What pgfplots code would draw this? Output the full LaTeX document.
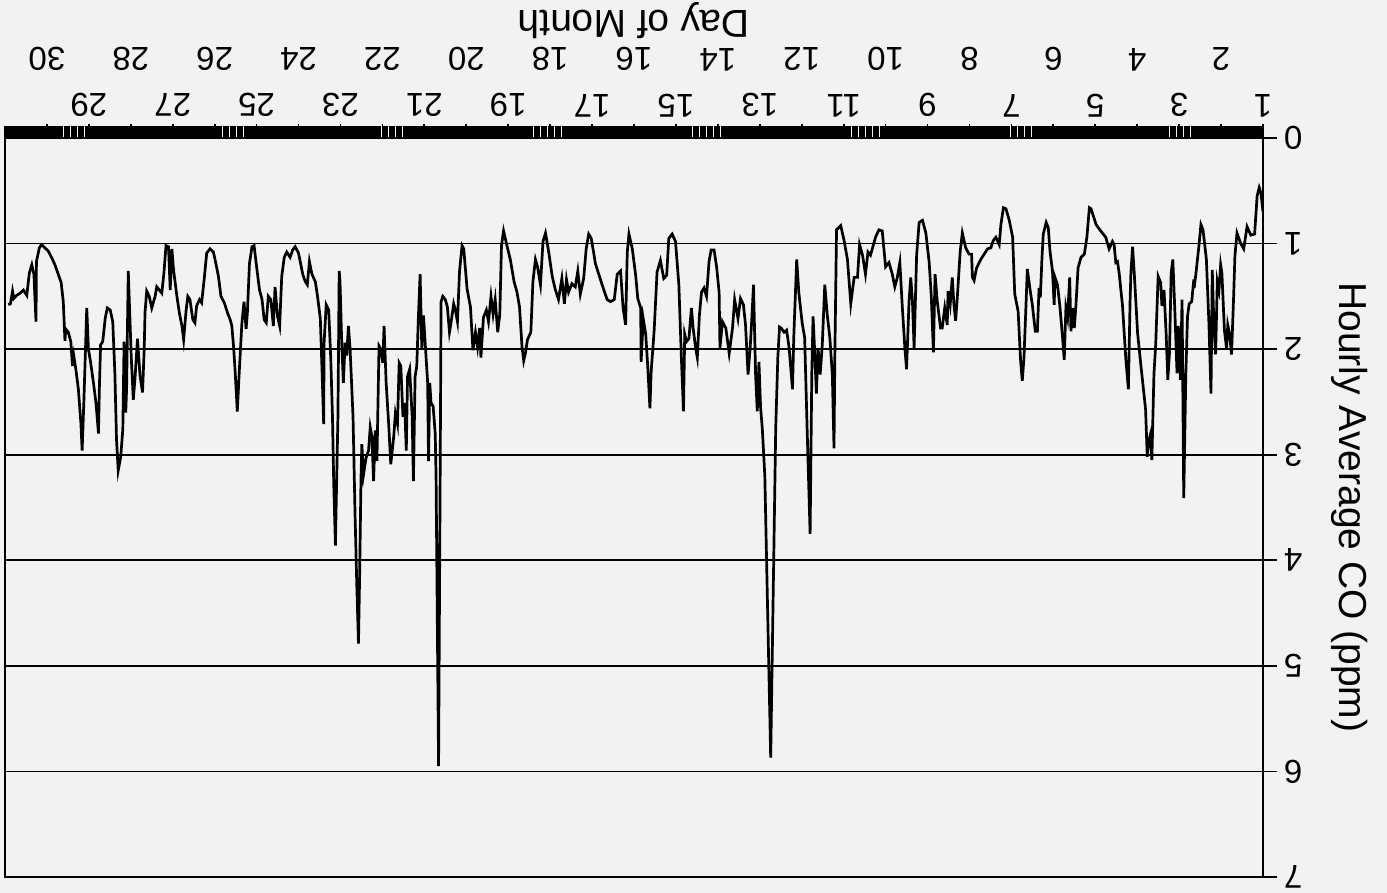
\documentclass[border=0pt]{standalone}
\usepackage{pgfplots}
\usepackage{pgfplotstable}
\pgfplotsset{compat=1.18}
\usetikzlibrary{backgrounds}
\usepackage{fontspec}
\setmainfont{Liberation Sans}

\pgfplotstableread{
day ppm
1.00 0.70
1.05 0.52
1.09 0.47
1.14 0.55
1.20 0.91
1.29 0.92
1.38 0.84
1.46 1.05
1.53 1.00
1.62 0.90
1.67 1.12
1.70 1.50
1.75 2.05
1.80 1.85
1.84 1.77
1.87 1.99
1.92 1.82
1.98 1.28
2.01 1.20
2.05 1.44
2.09 1.36
2.13 2.05
2.17 1.78
2.21 1.25
2.24 2.42
2.29 1.75
2.35 1.15
2.43 0.87
2.48 0.82
2.53 1.03
2.59 1.25
2.64 1.42
2.65 1.34
2.70 1.55
2.76 1.57
2.80 1.69
2.84 2.23
2.89 3.41
2.93 1.53
2.97 2.29
3.02 1.78
3.05 2.23
3.10 1.66
3.15 1.15
3.19 1.28
3.23 2.04
3.27 2.29
3.31 1.85
3.36 1.44
3.41 1.59
3.44 1.37
3.50 1.31
3.56 1.97
3.60 2.23
3.65 3.05
3.68 2.80
3.72 2.86
3.76 3.02
3.80 2.57
3.91 2.16
3.99 1.85
4.07 1.28
4.11 1.03
4.15 1.28
4.17 1.55
4.21 2.38
4.27 2.10
4.35 1.59
4.43 1.28
4.47 1.17
4.51 1.18
4.55 1.01
4.59 0.98
4.67 1.05
4.75 0.94
4.87 0.88
4.98 0.82
5.10 0.67
5.14 0.66
5.20 0.94
5.26 1.10
5.34 1.13
5.41 1.23
5.46 1.58
5.50 1.80
5.54 1.61
5.58 1.83
5.61 1.32
5.66 1.70
5.70 1.61
5.74 2.10
5.78 1.89
5.84 1.61
5.90 1.39
5.96 1.32
5.98 1.58
6.02 1.26
6.08 1.07
6.12 0.85
6.17 0.80
6.24 0.91
6.27 1.13
6.31 1.51
6.34 1.42
6.38 1.83
6.43 1.83
6.50 1.58
6.55 1.45
6.62 1.24
6.66 1.67
6.70 2.08
6.74 2.30
6.78 2.11
6.84 1.64
6.92 1.48
6.97 0.94
7.05 0.78
7.13 0.67
7.19 0.66
7.25 0.82
7.29 1.01
7.37 0.94
7.43 0.97
7.49 1.04
7.57 1.05
7.65 1.10
7.73 1.15
7.83 1.23
7.89 1.35
7.93 1.32
7.95 1.10
8.01 1.10
8.09 1.04
8.17 0.90
8.22 1.07
8.29 1.51
8.33 1.73
8.37 1.58
8.41 1.32
8.46 1.58
8.51 1.45
8.53 1.77
8.59 1.61
8.65 1.80
8.69 1.80
8.77 1.54
8.82 1.29
8.86 2.03
8.91 1.50
8.96 1.18
9.04 0.90
9.12 0.78
9.20 0.80
9.26 1.11
9.32 1.99
9.36 1.54
9.40 1.32
9.44 1.54
9.50 2.19
9.54 1.99
9.60 1.61
9.66 1.18
9.72 1.32
9.78 1.41
9.84 1.29
9.92 1.18
10.00 1.22
10.08 0.88
10.16 0.87
10.24 0.94
10.36 1.11
10.42 1.08
10.48 1.29
10.55 1.11
10.62 1.01
10.67 1.32
10.75 1.32
10.83 1.57
10.91 1.15
10.99 0.97
11.07 0.83
11.17 0.87
11.21 2.06
11.23 2.94
11.27 2.24
11.33 1.89
11.39 1.68
11.45 1.39
11.51 1.96
11.56 2.24
11.61 1.99
11.65 2.42
11.69 2.03
11.73 1.69
11.76 2.24
11.80 3.75
11.87 2.77
11.93 1.89
11.99 1.75
12.07 1.46
12.12 1.15
12.19 1.89
12.22 2.38
12.30 1.99
12.36 1.82
12.42 1.84
12.49 1.80
12.53 1.79
12.57 2.08
12.62 2.75
12.74 5.87
12.88 3.20
12.94 2.75
12.98 2.56
13.02 2.12
13.06 2.59
13.10 2.24
13.15 1.39
13.19 1.71
13.23 1.99
13.28 2.24
13.34 1.77
13.39 1.58
13.46 1.52
13.52 1.71
13.60 1.53
13.65 1.80
13.73 2.04
13.81 1.80
13.89 1.74
13.95 1.99
13.97 1.46
14.03 1.22
14.09 1.06
14.16 1.06
14.21 1.17
14.27 1.50
14.33 1.42
14.39 1.46
14.44 1.68
14.49 2.08
14.53 1.99
14.59 1.80
14.63 1.61
14.69 1.90
14.75 1.93
14.79 1.86
14.82 2.59
14.87 2.08
14.93 1.39
15.01 0.98
15.09 0.91
15.17 0.95
15.22 1.30
15.29 1.33
15.37 1.16
15.45 1.27
15.52 1.83
15.59 2.21
15.62 2.56
15.67 2.18
15.72 1.86
15.78 1.71
15.83 2.12
15.84 1.61
15.91 1.52
15.96 1.30
16.04 1.05
16.12 0.91
16.16 1.08
16.20 1.77
16.26 1.61
16.32 1.26
16.40 1.29
16.47 1.53
16.56 1.55
16.64 1.53
16.71 1.45
16.76 1.39
16.84 1.29
16.92 1.19
16.96 1.09
17.02 0.95
17.08 0.91
17.14 1.05
17.20 1.33
17.28 1.48
17.34 1.26
17.40 1.41
17.48 1.38
17.56 1.46
17.61 1.34
17.66 1.57
17.72 1.33
17.80 1.53
17.88 1.43
17.95 1.31
18.03 1.09
18.11 0.90
18.17 0.98
18.23 1.39
18.30 1.22
18.35 1.15
18.41 1.36
18.46 1.84
18.54 1.91
18.59 2.04
18.63 2.11
18.67 1.98
18.73 1.60
18.79 1.46
18.86 1.36
18.95 1.15
19.03 1.02
19.11 0.88
19.16 1.02
19.20 1.67
19.25 1.84
19.31 1.53
19.36 1.67
19.41 1.50
19.47 1.74
19.52 1.63
19.59 1.70
19.65 2.08
19.68 1.80
19.73 1.98
19.78 1.84
19.84 2.01
19.90 1.60
19.98 1.43
20.06 1.05
20.10 1.02
20.16 1.26
20.21 1.74
20.26 1.63
20.30 1.57
20.37 1.77
20.40 1.84
20.45 1.60
20.50 1.53
20.56 1.50
20.60 1.55
20.66 5.95
20.72 3.20
20.74 2.80
20.79 2.54
20.84 2.51
20.87 2.32
20.90 3.06
20.92 2.32
20.98 1.94
21.02 1.68
21.06 2.00
21.10 1.29
21.14 1.68
21.18 2.16
21.22 2.26
21.26 3.25
21.29 2.64
21.35 2.19
21.40 2.26
21.43 2.96
21.47 2.51
21.51 2.64
21.56 2.16
21.60 2.13
21.64 2.71
21.69 2.61
21.73 2.83
21.80 3.09
21.85 2.71
21.91 2.32
21.96 1.78
21.99 2.13
22.04 2.00
22.08 1.97
22.13 3.06
22.17 2.77
22.21 3.25
22.25 2.83
22.29 2.74
22.33 2.96
22.39 3.03
22.45 3.19
22.49 2.90
22.51 3.22
22.54 4.08
22.57 4.79
22.61 4.24
22.65 3.60
22.70 2.64
22.77 2.00
22.81 1.78
22.85 2.06
22.89 1.94
22.93 2.32
22.97 1.94
23.01 1.36
23.03 1.26
23.06 2.64
23.10 3.44
23.12 3.86
23.16 3.28
23.19 2.64
23.23 2.10
23.28 1.63
23.34 1.58
23.39 1.94
23.40 2.71
23.44 2.19
23.48 1.71
23.55 1.49
23.60 1.36
23.68 1.29
23.74 1.17
23.79 1.39
23.84 1.36
23.90 1.29
24.00 1.09
24.08 1.03
24.14 1.06
24.20 1.13
24.28 1.08
24.34 1.13
24.40 1.31
24.45 1.78
24.50 1.69
24.56 1.41
24.60 1.78
24.66 1.53
24.72 1.50
24.77 1.75
24.82 1.72
24.87 1.53
24.93 1.44
24.99 1.25
25.06 1.02
25.11 1.03
25.17 1.19
25.22 1.66
25.25 1.81
25.30 1.55
25.35 1.75
25.41 2.19
25.46 2.59
25.51 2.22
25.55 1.97
25.59 1.78
25.63 1.72
25.69 1.66
25.77 1.56
25.85 1.50
25.91 1.31
25.97 1.19
26.03 1.08
26.11 1.05
26.19 1.09
26.25 1.34
26.31 1.56
26.36 1.53
26.43 1.59
26.47 1.75
26.52 1.72
26.59 1.53
26.64 1.50
26.68 1.63
26.74 1.91
26.78 1.78
26.84 1.66
26.90 1.50
26.98 1.25
27.02 1.05
27.06 1.44
27.10 1.03
27.16 1.02
27.21 1.28
27.26 1.47
27.32 1.44
27.38 1.41
27.42 1.50
27.50 1.61
27.56 1.50
27.62 1.45
27.66 1.65
27.68 2.00
27.72 2.41
27.78 2.25
27.84 1.90
27.90 2.28
27.94 2.48
27.99 2.06
28.06 1.26
28.10 2.38
28.12 2.60
28.16 1.93
28.19 2.76
28.24 3.02
28.30 3.15
28.34 2.86
28.38 2.22
28.43 1.74
28.49 1.63
28.56 1.61
28.61 1.71
28.67 1.93
28.72 1.96
28.75 2.38
28.77 2.80
28.83 2.51
28.89 2.32
28.96 2.12
29.01 2.00
29.05 1.61
29.07 1.87
29.12 2.51
29.16 2.96
29.19 2.70
29.25 2.38
29.31 2.19
29.36 2.06
29.39 2.16
29.43 1.93
29.49 1.84
29.55 1.81
29.57 1.92
29.61 1.55
29.66 1.37
29.73 1.29
29.81 1.20
29.89 1.13
29.97 1.07
30.05 1.04
30.13 1.01
30.18 1.04
30.25 1.17
30.26 1.74
30.31 1.29
30.36 1.20
30.42 1.28
30.48 1.49
30.56 1.44
30.64 1.47
30.72 1.49
30.79 1.52
30.82 1.45
30.87 1.57
30.92 1.58
}\codata

\begin{document}
\begin{tikzpicture}[show background rectangle, inner frame sep=0pt,
  background rectangle/.style={fill=black!5, draw=none}]
\begin{axis}[
  name=ax,
  scale only axis,
  width=629pt, height=369.5pt,
  x dir=reverse, y dir=reverse,
  xmin=1, xmax=31, ymin=0, ymax=7,
  xtick={1,3,...,29},
  extra x ticks={2,4,...,30},
  minor xtick={1,1.0416667,...,31},
  ytick={0,1,...,7},
  tick pos=right,
  tick align=outside,
  major tick length=7pt,
  minor tick length=6pt,
  ymajorgrids,
  grid style={black, line width=0.8pt},
  axis line style={black, line width=1pt},
  every tick/.style={black, line width=0.85pt},
  every minor tick/.style={black, line width=0.85pt},
  /pgf/number format/assume math mode=true,
  tick label style={font=\fontsize{16.5}{18}\selectfont, rotate=180},
  xticklabel style={anchor=north, yshift=0pt},
  extra x tick style={xticklabel style={yshift=-23pt}},
  yticklabel style={anchor=east, xshift=0pt, inner ysep=0pt},
]
\addplot[black, line width=1.35pt, mark=none] table[x=day, y=ppm] {\codata};
\end{axis}
\node[rotate=180, font=\fontsize{19.5}{22}\selectfont] at ([yshift=58.5pt]ax.north) {Day of Month};
\node[rotate=-90, font=\fontsize{19.5}{22}\selectfont] at ([xshift=43.5pt]ax.east) {Hourly Average CO (ppm)};
\pgfresetboundingbox
\path[use as bounding box] ([xshift=-2.5pt,yshift=-8pt]ax.south west) rectangle ([xshift=62pt,yshift=69pt]ax.north east);
\end{tikzpicture}
\end{document}
